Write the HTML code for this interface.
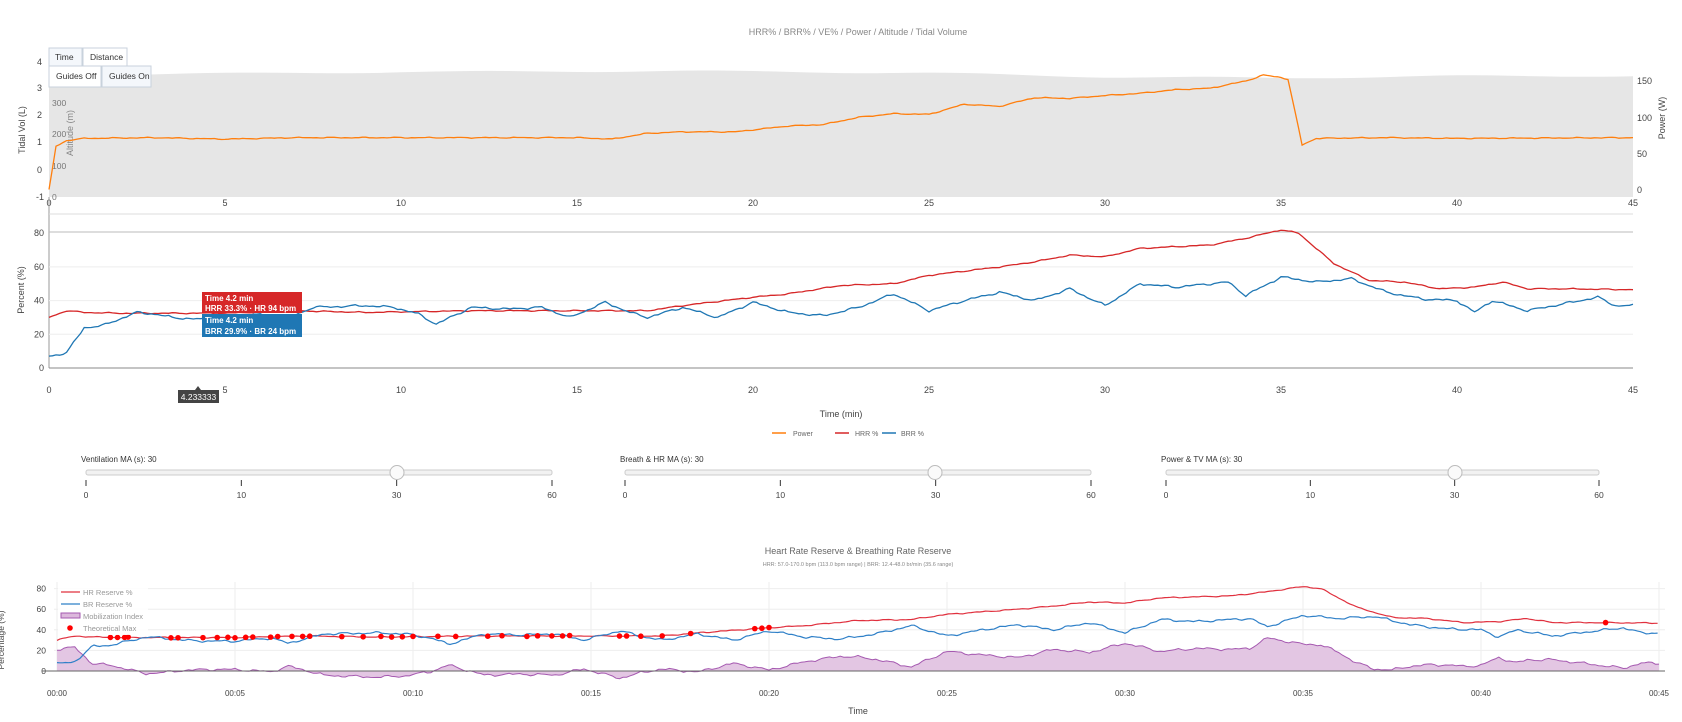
<!DOCTYPE html>
<html><head><meta charset="utf-8"><style>
body{margin:0;background:#fff;width:1682px;height:717px;overflow:hidden;font-family:"Liberation Sans",sans-serif}
svg text{font-family:"Liberation Sans",sans-serif}
</style></head><body>
<svg id="s" width="1682" height="717" viewBox="0 0 1682 717" xmlns="http://www.w3.org/2000/svg">
<rect width="1682" height="717" fill="#fff"/>
<text x="858" y="35" font-size="9" fill="#888" text-anchor="middle">HRR% / BRR% / VE% / Power / Altitude / Tidal Volume</text>
<path id="alt" fill="#e6e6e6" d=""/>
<g id="g"></g>
<g font-size="8.5" fill="#333">
<rect x="49" y="48" width="33" height="18" fill="#f4f7fb" stroke="#c8d2dc"/><text x="55" y="60">Time</text>
<rect x="83" y="48" width="44" height="18" fill="#fff" stroke="#c8d2dc"/><text x="90" y="60">Distance</text>
<rect x="49" y="66" width="52" height="21" fill="#fff" stroke="#c8d2dc"/><text x="56" y="79">Guides Off</text>
<rect x="102" y="66" width="49" height="21" fill="#f4f7fb" stroke="#c8d2dc"/><text x="109" y="79">Guides On</text>
</g>
<rect x="202" y="292" width="100" height="21" fill="#d62728"/>
<text x="205" y="301" font-size="8" fill="#fff" font-weight="bold">Time 4.2 min</text>
<text x="205" y="311" font-size="8" fill="#fff" font-weight="bold">HRR 33.3% · HR 94 bpm</text>
<rect x="202" y="314" width="100" height="23" fill="#1f77b4"/>
<text x="205" y="323" font-size="8" fill="#fff" font-weight="bold">Time 4.2 min</text>
<text x="205" y="334" font-size="8" fill="#fff" font-weight="bold">BRR 29.9% · BR 24 bpm</text>
<rect x="178" y="390" width="41" height="13" fill="#444"/>
<path d="M195 390 L198 386 L201 390Z" fill="#444"/>
<text x="198.5" y="400" font-size="8.5" fill="#fff" text-anchor="middle">4.233333</text>
<g font-size="7" fill="#666">
<line x1="772" y1="433" x2="786" y2="433" stroke="#ff7f0e" stroke-width="1.5"/><text x="793" y="436">Power</text>
<line x1="835" y1="433" x2="849" y2="433" stroke="#d62728" stroke-width="1.5"/><text x="855" y="436">HRR %</text>
<line x1="882" y1="433" x2="896" y2="433" stroke="#1f77b4" stroke-width="1.5"/><text x="901" y="436">BRR %</text>
</g>
<text x="841" y="417" font-size="9" fill="#444" text-anchor="middle">Time (min)</text>
<text x="858" y="554" font-size="9" fill="#666" text-anchor="middle">Heart Rate Reserve &amp; Breathing Rate Reserve</text>
<text x="858" y="566" font-size="5.5" fill="#888" text-anchor="middle">HRR: 57.0-170.0 bpm (113.0 bpm range) | BRR: 12.4-48.0 br/min (35.6 range)</text>
<text x="858" y="714" font-size="9" fill="#444" text-anchor="middle">Time</text>
<g id="leg2"></g>
</svg>
<script>
var NS="http://www.w3.org/2000/svg",g=document.getElementById('g');
function el(t,a,p){var e=document.createElementNS(NS,t);for(var k in a)e.setAttribute(k,a[k]);(p||g).appendChild(e);return e}
function txt(x,y,s,a){var e=el('text',Object.assign({x:x,y:y,'font-size':9,fill:'#444'},a||{}));e.textContent=s;return e}
function interp(P,t){for(var i=1;i<P.length;i++){if(t<=P[i][0]){var a=P[i-1],b=P[i];var f=(t-a[0])/(b[0]-a[0]||1);return a[1]+(b[1]-a[1])*f}}return P[P.length-1][1]}
function nz(t,s){return Math.sin(t*7.1+s)*0.5+Math.sin(t*13.3+s*2)*0.35+Math.sin(t*23.7+s*3)*0.25}
var HRR=[[0,30],[0.5,34],[1,33],[2,32.5],[5,32.5],[7,34],[9,33],[12,34],[15,34],[17,34],[18,37],[20,42],[21,44],[22.5,49],[24,50],[25,55],[27,60],[28,63],[29,67],[30,66],[31,71],[32,72],[33,73],[34,77],[35,82],[35.5,80],[36.5,62],[37.5,52],[38.5,51],[39.5,47],[40.5,48],[41.3,51],[42,47],[43,47],[45,46.5]];
var BRR=[[0,7],[0.5,9],[1,24],[1.5,25],[2.5,33],[3,32],[3.5,30],[4.2,29],[5,29],[6,32],[6.5,27],[7.5,36],[9,37],[9.8,36],[10.5,32],[11,26],[12,36],[13,35],[14,36],[14.8,30],[15.8,39],[16.5,33],[17,30],[18,36],[19,30],[20,39],[21,33],[22,31],[23,36],[24,44],[25,34],[26,40],[27,45],[28,40],[29,47],[30,37],[31,50],[32,48],[33.5,51],[34,43],[35,54],[36,51],[37,53],[38,45],[39,41],[40,40],[40.5,33],[41,40],[42,34],[43,38],[44,42],[44.5,37],[45,37]];
var PW=[[0,0],[0.2,60],[0.5,68],[1,71],[3,72],[5,70],[7,72],[10,72],[12,72],[15,72],[16,70],[17,78],[18,80],[19.5,80],[21,88],[22,90],[23,100],[24,105],[25,104],[26,118],[27,115],[28,127],[29,126],[30,130],[31,133],[32,138],[33,140],[34,150],[34.5,158],[35,155],[35.2,152],[35.6,62],[36,71],[38,72],[40,71],[45,72],[45.1,80]];
function X(t){return 49+t*35.2}function Y(p){return 368-p*1.685}function YP(w){return 190-w*0.727}
function XB(t){return 57+t*35.6}function YB(p){return 671-p*1.03}
var AT=[[0,75],[10,72],[18,71],[25,73],[30,77],[35,78],[40,76],[45,76]],d='M49 197';
for(var t=0;t<=45;t+=0.5)d+=' L'+X(t).toFixed(1)+' '+(interp(AT,t)+Math.sin(t*0.9)*0.8).toFixed(1);
d+=' L1633 197Z';document.getElementById('alt').setAttribute('d',d);
function path(P,fx,fy,noise,seed,step){var s='';for(var t=0;t<=45.0001;t+=step){var v=interp(P,t)+(noise?noise*nz(t,seed):0);s+=(s?' L':'M')+fx(t).toFixed(1)+' '+fy(v).toFixed(1)}return s}
txt(42,65,'4',{'text-anchor':'end'});txt(42,91,'3',{'text-anchor':'end'});txt(42,118,'2',{'text-anchor':'end'});txt(42,145,'1',{'text-anchor':'end'});txt(42,173,'0',{'text-anchor':'end'});txt(44,200,'-1',{'text-anchor':'end'});
txt(25,130,'Tidal Vol (L)',{transform:'rotate(-90 25 130)','text-anchor':'middle'});
[['300',106],['200',137],['100',169],['0',200]].forEach(function(a){txt(52,a[1],a[0],{fill:'#777',"font-size":8.5})});
txt(73,133,'Altitude (m)',{transform:'rotate(-90 73 133)','text-anchor':'middle',fill:'#888'});
[['150',84],['100',121],['50',157],['0',193]].forEach(function(a){txt(1637,a[1],a[0])});
txt(1665,118,'Power (W)',{transform:'rotate(-90 1665 118)','text-anchor':'middle'});
for(var i=0;i<=9;i++){txt(X(i*5),206,''+i*5,{'text-anchor':'middle'});txt(X(i*5),393,''+i*5,{'text-anchor':'middle'})}
el('line',{x1:49,y1:197,x2:49,y2:368,stroke:'#999'});
el('path',{d:path(PW,X,YP,0.8,1,0.1),fill:'none',stroke:'#ff7f0e','stroke-width':1.3});
el('line',{x1:49,y1:214,x2:1633,y2:214,stroke:'#ddd'});
el('line',{x1:49,y1:232,x2:1633,y2:232,stroke:'#bbb'});
[20,40,60].forEach(function(p){el('line',{x1:49,y1:Y(p),x2:1633,y2:Y(p),stroke:'#eee'})});
el('line',{x1:49,y1:368,x2:1633,y2:368,stroke:'#888'});
[0,20,40,60,80].forEach(function(p){txt(44,Y(p)+3,''+p,{'text-anchor':'end'})});
txt(24,290,'Percent (%)',{transform:'rotate(-90 24 290)','text-anchor':'middle'});
el('path',{d:path(HRR,X,Y,0.4,2,0.1),fill:'none',stroke:'#d62728','stroke-width':1.3});
el('path',{d:path(BRR,X,Y,0.8,3,0.1),fill:'none',stroke:'#1f77b4','stroke-width':1.3});
[[86,552,397,'Ventilation MA (s): 30'],[625,1091,935,'Breath & HR MA (s): 30'],[1166,1599,1455,'Power & TV MA (s): 30']].forEach(function(s){
 txt(s[0]-5,462,s[3],{'font-size':8,fill:'#333'});
 el('rect',{x:s[0],y:470,width:s[1]-s[0],height:5,rx:2,fill:'#f2f2f2',stroke:'#ccc'});
 ['0','10','30','60'].forEach(function(l,i){var x=s[0]+(s[1]-s[0])*i/3;el('line',{x1:x,y1:480,x2:x,y2:486,stroke:'#333'});txt(x,498,l,{'text-anchor':'middle','font-size':8.5})});
 el('circle',{cx:s[2],cy:472.5,r:7,fill:'#fafafa',stroke:'#bbb'});
});
for(i=0;i<=9;i++){el('line',{x1:XB(i*5),y1:582,x2:XB(i*5),y2:671,stroke:'#eee'});txt(XB(i*5),696,'00:'+(i*5<10?'0':'')+i*5,{'text-anchor':'middle','font-size':8})}
[20,40,60,80].forEach(function(p){el('line',{x1:XB(0)-3,y1:YB(p),x2:1665,y2:YB(p),stroke:'#eee'})});
[0,20,40,60,80].forEach(function(p){txt(46,YB(p)+3,''+p,{'text-anchor':'end','font-size':8.5})});
txt(4,640,'Percentage (%)',{transform:'rotate(-90 4 640)','text-anchor':'middle','font-size':8.5});
var mi='M'+XB(0)+' '+YB(0);for(t=0;t<=45.0001;t+=0.1){var v=interp(HRR,t)-interp(BRR,t)-2+1.5*nz(t,5);mi+=' L'+XB(t).toFixed(1)+' '+YB(v).toFixed(1)}
var miL=mi.replace(/^M[^L]*L/,'M');mi+=' L'+XB(45)+' '+YB(0)+'Z';
el('path',{d:mi,fill:'#e3c6e3'});el('path',{d:miL,fill:'none',stroke:'#a559b0','stroke-width':1});
el('line',{x1:XB(0)-15,y1:671,x2:1665,y2:671,stroke:'#666'});
el('path',{d:path(HRR,XB,YB,0.6,6,0.08),fill:'none',stroke:'#e0303e','stroke-width':1.2});
el('path',{d:path(BRR,XB,YB,1.3,7,0.08),fill:'none',stroke:'#2f80c8','stroke-width':1.2});
[1.5,1.7,1.9,2.0,3.2,3.4,4.1,4.5,4.8,5.0,5.3,5.5,6.0,6.2,6.6,6.9,7.1,8.0,8.6,9.1,9.4,9.7,10.0,10.7,11.2,12.1,12.5,13.2,13.5,13.9,14.2,14.4,15.8,16.0,16.4,17.0,17.8,19.6,19.8,20.0,43.5].forEach(function(t){el('circle',{cx:XB(t),cy:YB(interp(HRR,t)+0.5*nz(t,6)),r:2.8,fill:'#f00'})});
var L=document.getElementById('leg2');el('rect',{x:58,y:583,width:90,height:52,fill:'#fff','fill-opacity':0.85},L);
el('line',{x1:61,y1:592,x2:80,y2:592,stroke:'#e0303e','stroke-width':1.3},L);
el('line',{x1:61,y1:604,x2:80,y2:604,stroke:'#2f80c8','stroke-width':1.3},L);
el('rect',{x:61,y:613,width:19,height:5,fill:'#dcb8dc',stroke:'#a559b0'},L);
el('circle',{cx:70,cy:628,r:2.8,fill:'#f00'},L);
[['HR Reserve %',595],['BR Reserve %',607],['Mobilization Index',619],['Theoretical Max',631]].forEach(function(a){var e=txt(83,a[1],a[0],{'font-size':7.5,fill:'#999'});L.appendChild(e)});
</script>
</body></html>
